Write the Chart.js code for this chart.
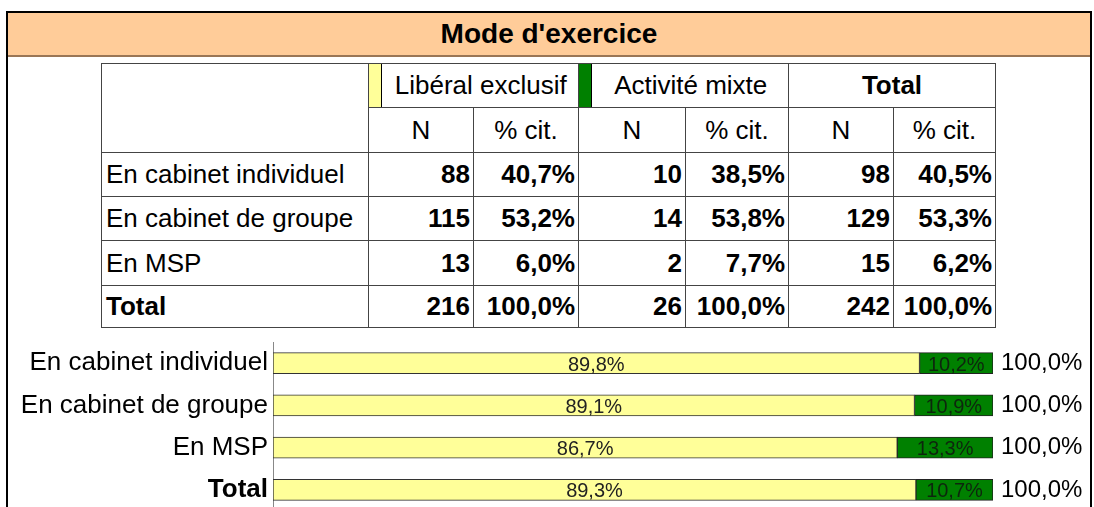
<!DOCTYPE html>
<html>
<head>
<meta charset="utf-8">
<script src="https://cdn.jsdelivr.net/npm/chart.js@4"></script>
<style>
  html, body { margin: 0; padding: 0; background: #fff; overflow: hidden; }
  body { width: 1094px; height: 507px; position: relative; font-family: "Liberation Sans", Arial, sans-serif; }
  #frame { position: absolute; left: 6px; top: 11px; width: 1082px; height: 520px;
           border: 2px solid #000; border-bottom: none; }
  #title { position: absolute; left: 8px; top: 13px; width: 1082px; height: 42px;
           background: #FFCC99; border-bottom: 2px solid #9a7656;
           font-weight: bold; font-size: 28px; text-align: center; line-height: 42px; }
  #tbl { position: absolute; left: 101px; top: 63px; border-collapse: collapse; font-size: 26px; }
  #tbl td { border: 1px solid #444; padding: 0; white-space: nowrap; }
  #tbl td.lab { text-align: left; padding-left: 4px; }
  #tbl td.num { text-align: right; padding-right: 3px; font-weight: bold; }
  #tbl td.hd { text-align: center; }
  #tbl td.grp { text-align: center; position: relative; }
  .mark { position: absolute; top: 0; bottom: 0; width: 12px; border-right: 1px solid #000; }
  #barBox { position: absolute; left: 0; top: 330px; width: 1094px; height: 181px; }
</style>
</head>
<body>
<div id="frame"></div>
<div id="title">Mode d'exercice</div>
<table id="tbl"></table>
<div id="barBox"><canvas id="bars"></canvas></div>
<script>
const categories = ['En cabinet individuel', 'En cabinet de groupe', 'En MSP', 'Total'];
const liberalN = [88, 115, 13, 216];
const liberalPct = [40.7, 53.2, 6.0, 100.0];
const mixteN = [10, 14, 2, 26];
const mixtePct = [38.5, 53.8, 7.7, 100.0];
const totalN = [98, 129, 15, 242];
const totalPct = [40.5, 53.3, 6.2, 100.0];

// Row shares shown in the bars
const liberalShare = [89.8, 89.1, 86.7, 89.3];
const mixteShare = [10.2, 10.9, 13.3, 10.7];
const rowTotal = [100.0, 100.0, 100.0, 100.0];

const groups = ['Libéral exclusif', 'Activité mixte', 'Total'];
const subHeaders = ['N', '% cit.'];

const YELLOW = '#FFFF99';
const GREEN = '#008000';

function pct(v) {
    return v.toFixed(1).replace('.', ',') + '%';
}

// Build the table
function buildTable() {
    const tbl = document.getElementById('tbl');
    const widths = [267, 105, 105, 107, 103, 105, 102];
    const heights = [44, 45, 44, 44, 45, 42];
    let html = '<colgroup>' + widths.map(w => `<col style="width:${w}px">`).join('') + '</colgroup>';

    html += `<tr style="height:${heights[0]}px"><td rowspan="2"></td>`;
    html += `<td colspan="2" class="grp"><span class="mark" style="left:0;background:${YELLOW}"></span>&nbsp;&nbsp;${groups[0]}</td>`;
    html += `<td colspan="2" class="grp"><span class="mark" style="left:0;background:${GREEN}"></span>&nbsp;&nbsp;${groups[1]}</td>`;
    html += `<td colspan="2" class="grp" style="font-weight:bold">${groups[2]}</td></tr>`;

    html += `<tr style="height:${heights[1]}px">`;
    for (let g = 0; g < 3; g++) {
        subHeaders.forEach(h => { html += `<td class="hd">${h}</td>`; });
    }
    html += '</tr>';

    categories.forEach((c, i) => {
        const bold = i === categories.length - 1 ? 'font-weight:bold;' : '';
        html += `<tr style="height:${heights[i + 2]}px"><td class="lab" style="${bold}">${c}</td>`;
        html += `<td class="num">${liberalN[i]}</td><td class="num">${pct(liberalPct[i])}</td>`;
        html += `<td class="num">${mixteN[i]}</td><td class="num">${pct(mixtePct[i])}</td>`;
        html += `<td class="num">${totalN[i]}</td><td class="num">${pct(totalPct[i])}</td></tr>`;
    });
    tbl.innerHTML = html;
}

// Labels inside the bars and the row total after them
const barLabels = {
    id: 'barLabels',
    afterDatasetsDraw(chart) {
        const ctx = chart.ctx;
        ctx.save();
        ctx.font = '20px "Liberation Sans", Arial, sans-serif';
        ctx.textAlign = 'center';
        ctx.textBaseline = 'middle';
        chart.data.datasets.forEach((ds, di) => {
            const meta = chart.getDatasetMeta(di);
            meta.data.forEach((bar, i) => {
                ctx.fillStyle = di === 0 ? '#222' : '#0d260d';
                ctx.fillText(pct(ds.data[i]), (bar.x + bar.base) / 2, bar.y + 2);
            });
        });
        const last = chart.getDatasetMeta(1);
        ctx.font = '24px "Liberation Sans", Arial, sans-serif';
        ctx.textAlign = 'left';
        ctx.fillStyle = '#000';
        last.data.forEach((bar, i) => {
            ctx.fillText(pct(rowTotal[i]), bar.x + 8, bar.y);
        });
        ctx.restore();
    }
};

function buildChart() {
    const ctx = document.getElementById('bars').getContext('2d');
    new Chart(ctx, {
        type: 'bar',
        data: {
            labels: categories,
            datasets: [
                {
                    label: groups[0],
                    data: liberalShare,
                    backgroundColor: YELLOW,
                    borderColor: '#333',
                    borderWidth: 1,
                    borderSkipped: false,
                    barThickness: 21
                },
                {
                    label: groups[1],
                    data: mixteShare,
                    backgroundColor: GREEN,
                    borderColor: '#222',
                    borderWidth: 1,
                    borderSkipped: false,
                    barThickness: 21
                }
            ]
        },
        options: {
            indexAxis: 'y',
            responsive: true,
            maintainAspectRatio: false,
            animation: false,
            devicePixelRatio: 1,
            layout: { padding: { top: 12, right: 101, left: 0, bottom: 0 } },
            plugins: { legend: { display: false }, tooltip: { enabled: false } },
            scales: {
                x: { stacked: true, min: 0, max: 100, display: false },
                y: {
                    stacked: true,
                    grid: { display: false, drawTicks: false },
                    border: { display: true, color: '#888', width: 1 },
                    ticks: {
                        padding: 5,
                        color: '#000',
                        font: c => ({
                            family: '"Liberation Sans", Arial, sans-serif',
                            size: 26,
                            weight: c.index === categories.length - 1 ? 'bold' : 'normal'
                        })
                    },
                    afterFit: scale => {
                        scale.width = 273;
                        // labels sit inside their bands, no extra room needed
                        scale.paddingTop = 0;
                        scale.paddingBottom = 0;
                    }
                }
            }
        },
        plugins: [barLabels]
    });
}

buildTable();
buildChart();
</script>
</body>
</html>
